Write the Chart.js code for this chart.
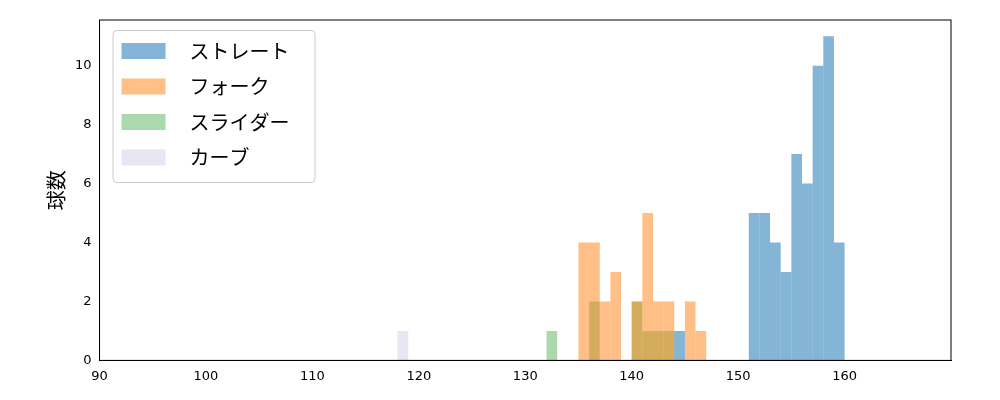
<!DOCTYPE html>
<html><head><meta charset="utf-8">
<script src="https://cdn.jsdelivr.net/npm/chart.js@4"></script>
<style>body{margin:0;background:#fff}#wrap{width:1000px;height:400px}</style>
</head><body><div id="wrap"><canvas id="c"></canvas></div>
<script>
const seriesNames = ['ストレート', 'フォーク', 'スライダー', 'カーブ'];
const seriesColors = ['rgba(31,119,180,0.55)', 'rgba(255,127,14,0.5)', 'rgba(44,160,44,0.4)', 'rgba(208,206,230,0.5)'];
// bin centres and counts
const straightBins = [144.5, 151.5, 152.5, 153.5, 154.5, 155.5, 156.5, 157.5, 158.5, 159.5];
const straightCounts = [1, 5, 5, 4, 3, 7, 6, 10, 11, 4];
const forkBins = [135.5, 136.5, 137.5, 138.5, 140.5, 141.5, 142.5, 143.5, 145.5, 146.5];
const forkCounts = [4, 4, 2, 3, 2, 5, 2, 2, 2, 1];
const sliderBins = [132.5, 136.5, 140.5, 141.5, 142.5, 143.5];
const sliderCounts = [1, 2, 2, 1, 1, 1];
const curveBins = [118.5];
const curveCounts = [1];
const xTicks = [90, 100, 110, 120, 130, 140, 150, 160];
const yTicks = [0, 2, 4, 6, 8, 10];

const pts = (b, c) => b.map((x, i) => ({x: x, y: c[i]}));
const all = [pts(straightBins, straightCounts), pts(forkBins, forkCounts), pts(sliderBins, sliderCounts), pts(curveBins, curveCounts)];

const legendBox = {
  id: 'legendBox',
  afterDraw(chart) {
    const ctx = chart.ctx, a = chart.chartArea;
    const x = a.left + 13, y = a.top + 10, w = 202, h = 152;
    ctx.save();
    ctx.fillStyle = 'rgba(255,255,255,0.8)';
    ctx.strokeStyle = '#ccc';
    ctx.lineWidth = 1;
    ctx.beginPath();
    ctx.roundRect(x + 0.5, y + 0.5, w, h, 4);
    ctx.fill(); ctx.stroke();
    ctx.font = '20px "Noto Sans CJK JP"';
    ctx.textBaseline = 'middle';
    seriesNames.forEach((n, i) => {
      const cy = y + 21 + i * 35.5;
      ctx.fillStyle = seriesColors[i];
      ctx.fillRect(x + 9, cy - 8, 44, 16);
      ctx.fillStyle = '#000';
      ctx.fillText(n, x + 77, cy);
    });
    ctx.restore();
  }
};

new Chart(document.getElementById('c'), {
  type: 'bar',
  data: {
    datasets: all.map((d, i) => ({
      label: seriesNames[i], data: d, backgroundColor: seriesColors[i],
      barPercentage: 1, categoryPercentage: 1, grouped: false, borderWidth: 0, inflateAmount: 0
    }))
  },
  options: {
    responsive: true, maintainAspectRatio: false, animation: false,
    layout: {padding: {left: 40, right: 49, top: 20, bottom: 13}},
    plugins: {legend: {display: false}, tooltip: {enabled: false}},
    scales: {
      x: {
        type: 'linear', min: 90, max: 170, offset: false,
        grid: {display: false, drawTicks: true, tickLength: 5, tickColor: '#000'},
        border: {color: '#000', width: 1},
        afterBuildTicks: s => { s.ticks = xTicks.map(v => ({value: v})); },
        ticks: {color: '#000', font: {size: 13, family: 'DejaVu Sans'}, maxRotation: 0}
      },
      y: {
        min: 0, max: 11.55,
        grid: {display: false, drawTicks: true, tickLength: 5, tickColor: '#000'},
        border: {color: '#000', width: 1},
        afterBuildTicks: s => { s.ticks = yTicks.map(v => ({value: v})); },
        ticks: {color: '#000', font: {size: 13, family: 'DejaVu Sans'}},
        title: {display: true, text: '球数', color: '#000', font: {size: 20, family: 'Noto Sans CJK JP'}}
      }
    }
  },
  plugins: [legendBox, {
    id: 'frame',
    afterDraw(chart) {
      const ctx = chart.ctx, a = chart.chartArea;
      ctx.save(); ctx.strokeStyle = '#000'; ctx.lineWidth = 1;
      ctx.strokeRect(a.left, a.top, a.right - a.left, a.bottom - a.top);
      ctx.restore();
    }
  }]
});
</script></body></html>
